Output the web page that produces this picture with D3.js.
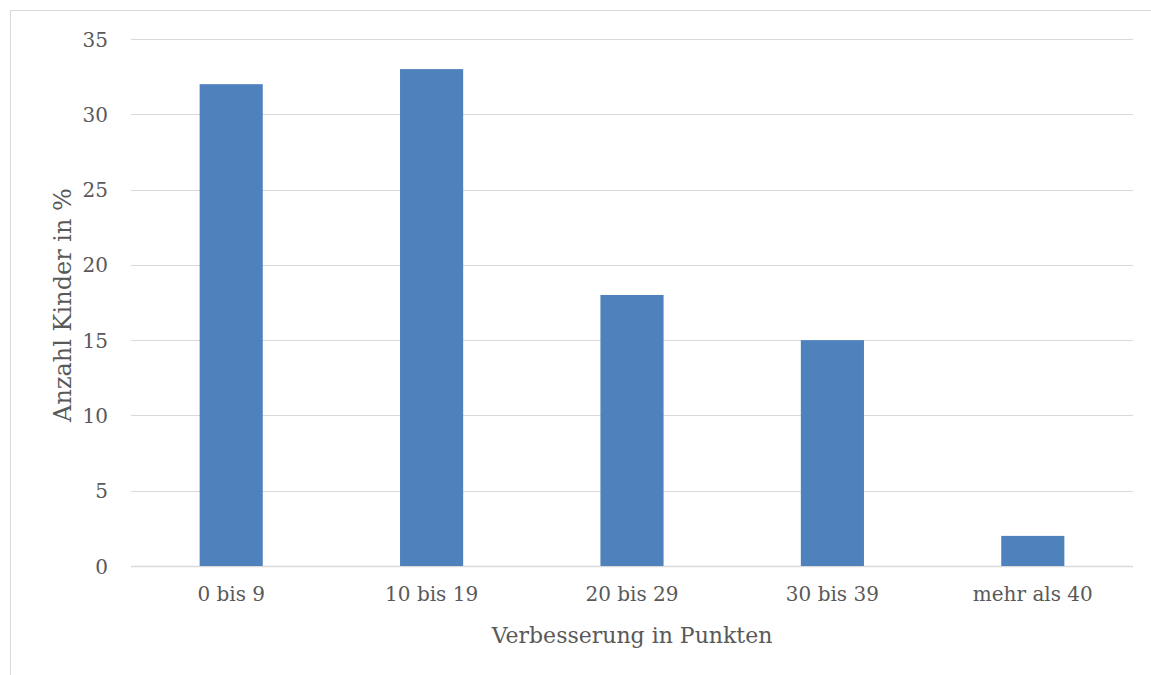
<!DOCTYPE html>
<html>
<head>
<meta charset="utf-8">
<script src="https://cdn.jsdelivr.net/npm/d3@7"></script>
<style>
  html, body { margin: 0; padding: 0; background: #fff; overflow: hidden; }
  svg { display: block; }
  text { font-family: "DejaVu Serif", "Liberation Serif", serif; fill: #595959; }
</style>
</head>
<body>
<svg id="chart" width="1151" height="675"></svg>
<script>
// Verbesserung der Kinder, gruppiert nach Punktebereich
const categories = ["0 bis 9", "10 bis 19", "20 bis 29", "30 bis 39", "mehr als 40"];
const values = [32, 33, 18, 15, 2];
const yTicks = [0, 5, 10, 15, 20, 25, 30, 35];
const xTitle = "Verbesserung in Punkten";
const yTitle = "Anzahl Kinder in %";

const svg = d3.select("#chart");
const W = 1151, H = 675;
const plot = { left: 131, right: 1133, top: 39, bottom: 566 };
const FONT = "DejaVu Serif, Liberation Serif, serif";

// Outer chart frame (extends past the right and bottom edges)
svg.append("rect")
  .attr("x", 10.5).attr("y", 10.5)
  .attr("width", W).attr("height", H)
  .attr("fill", "none").attr("stroke", "#d9d9d9").attr("stroke-width", 1);

const x = d3.scaleBand().domain(categories)
  .range([plot.left, plot.right]).paddingInner(0.685).paddingOuter(0.3425);
const y = d3.scaleLinear().domain([0, 35]).range([plot.bottom, plot.top]);

// Horizontal gridlines
svg.append("g")
  .selectAll("line").data(yTicks).join("line")
  .attr("x1", plot.left).attr("x2", plot.right)
  .attr("y1", d => Math.round(y(d)) + 0.5).attr("y2", d => Math.round(y(d)) + 0.5)
  .attr("stroke", "#d9d9d9").attr("stroke-width", d => d === 0 ? 1.5 : 1);

// Bars
svg.append("g")
  .selectAll("rect").data(values).join("rect")
  .attr("x", (d, i) => x(categories[i]))
  .attr("width", x.bandwidth())
  .attr("y", d => y(d))
  .attr("height", d => y(0) - y(d))
  .attr("fill", "#4f81bd");

// Y axis labels
const yAxis = d3.axisLeft(y).tickValues(yTicks).tickSize(0).tickPadding(0);
svg.append("g")
  .attr("transform", `translate(${plot.left - 23},0)`)
  .call(yAxis)
  .call(g => g.select(".domain").remove())
  .call(g => g.selectAll("text")
    .attr("font-size", 20)
    .attr("font-family", FONT)
    .attr("fill", "#595959")
    .attr("dy", "0.35em"));

// X axis labels
const xAxis = d3.axisBottom(x).tickSize(0).tickPadding(0);
svg.append("g")
  .attr("transform", `translate(0,${plot.bottom + 20})`)
  .call(xAxis)
  .call(g => g.select(".domain").remove())
  .call(g => g.selectAll("text")
    .attr("font-size", 20)
    .attr("font-family", FONT)
    .attr("fill", "#595959")
    .attr("dy", "0.75em"));

// Axis titles
svg.append("text")
  .attr("x", (plot.left + plot.right) / 2).attr("y", 643)
  .attr("text-anchor", "middle")
  .attr("font-size", 22)
  .text(xTitle);

svg.append("text")
  .attr("transform", `translate(71,305) rotate(-90)`)
  .attr("text-anchor", "middle")
  .attr("font-size", 24)
  .text(yTitle);
</script>
</body>
</html>
